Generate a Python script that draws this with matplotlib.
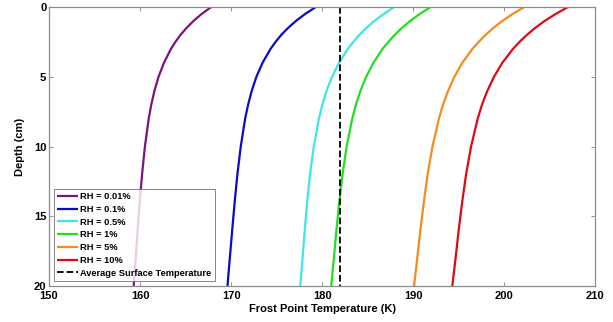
import numpy as np
import matplotlib
matplotlib.use("Agg")
import matplotlib.pyplot as plt

# depth (cm) at which the profiles were read
depth = [0, 0.5, 1, 1.5, 2, 2.5, 3, 4, 5, 6, 7, 8, 10, 12, 14, 16, 18, 20]

# frost point temperature (K) for each relative humidity
t_001 = [167.8, 166.75, 165.86, 165.10, 164.43, 163.88, 163.39, 162.62, 162.03,
         161.58, 161.23, 160.95, 160.53, 160.22, 159.96, 159.73, 159.52, 159.3]
t_01 = [179.3, 178.12, 177.11, 176.25, 175.50, 174.88, 174.33, 173.45, 172.78,
        172.27, 171.87, 171.54, 171.06, 170.69, 170.39, 170.12, 169.86, 169.6]
t_05 = [187.9, 186.75, 185.73, 184.85, 184.09, 183.42, 182.82, 181.85, 181.09,
        180.49, 180.02, 179.65, 179.08, 178.67, 178.35, 178.09, 177.85, 177.6]
t_1 = [191.9, 190.71, 189.66, 188.75, 187.96, 187.27, 186.64, 185.63, 184.84,
       184.21, 183.71, 183.31, 182.69, 182.24, 181.88, 181.57, 181.29, 181.0]
t_5 = [202.2, 200.92, 199.78, 198.80, 197.94, 197.19, 196.51, 195.40, 194.53,
       193.84, 193.28, 192.83, 192.12, 191.59, 191.17, 190.79, 190.45, 190.1]
t_10 = [207.0, 205.64, 204.43, 203.39, 202.48, 201.68, 200.96, 199.79, 198.88,
        198.15, 197.56, 197.09, 196.36, 195.81, 195.38, 195.0, 194.66, 194.3]

labels = ["RH = 0.01%", "RH = 0.1%", "RH = 0.5%", "RH = 1%", "RH = 5%", "RH = 10%"]
surface_temp = 182.0
surface_label = "Average Surface Temperature"

colors = ["#7d127d", "#0a0acc", "#3ee6e6", "#22dd22", "#f68a1e", "#dd0a14"]

plt.rcParams["font.family"] = ["Liberation Sans", "DejaVu Sans"]
plt.rcParams["font.weight"] = "bold"

fig = plt.figure(figsize=(6.13, 3.22), dpi=100)
ax = fig.add_axes([0.080, 0.112, 0.891, 0.866])

for t, lab, c in zip([t_001, t_01, t_05, t_1, t_5, t_10], labels, colors):
    ax.plot(t, depth, color=c, lw=1.6, label=lab, solid_capstyle="butt")
ax.plot([surface_temp, surface_temp], [depth[0], depth[-1]], color="black",
        ls="--", lw=1.3, label=surface_label)

ax.set_xlim(150, 210)
ax.set_ylim(20, 0)
ax.set_xticks(np.arange(150, 211, 10))
ax.set_yticks(np.arange(0, 21, 5))
ax.tick_params(direction="in", top=True, right=True, length=3, width=0.6,
               color="0.5", labelsize=8, pad=2)
ax.tick_params(axis="x", pad=4)
for s in ax.spines.values():
    s.set_color("0.55")
    s.set_linewidth(0.9)
ax.set_xlabel("Frost Point Temperature (K)", fontsize=8, fontweight="bold", labelpad=2)
ax.set_ylabel("Depth (cm)", fontsize=8, fontweight="bold", labelpad=6)

leg = ax.legend(loc="lower left", fontsize=6.7, frameon=True, fancybox=False,
                handlelength=2.2, handletextpad=0.2, labelspacing=0.4,
                borderpad=0.4, borderaxespad=0.5)
leg.get_frame().set_edgecolor("0.4")
leg.get_frame().set_linewidth(0.7)

fig.savefig("out.png", dpi=100)
